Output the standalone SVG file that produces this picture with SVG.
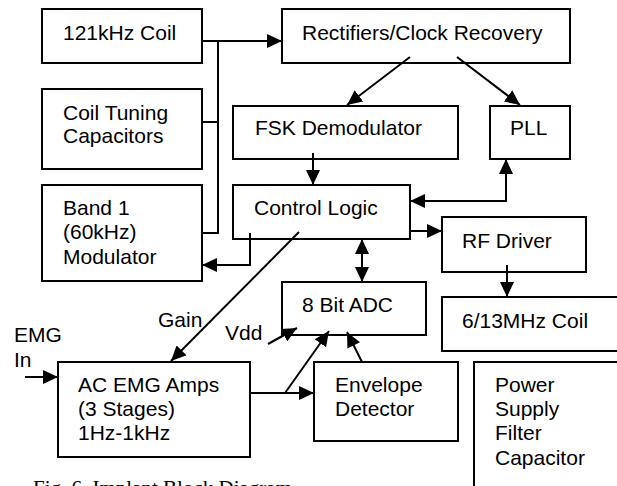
<svg xmlns="http://www.w3.org/2000/svg" width="617" height="486" viewBox="0 0 617 486">
<style>
.box{fill:#fff;stroke:#000;stroke-width:2}
.t{font-family:"Liberation Sans",Arial,sans-serif;font-size:21px;fill:#000}
.cap{font-family:"Liberation Serif","Times New Roman",serif;font-size:21px;fill:#000}
.c{fill:none;stroke:#000;stroke-width:2}
.a{marker-end:url(#ah)}
.d{marker-start:url(#ah);marker-end:url(#ah)}
</style>
<defs>
<marker id="ah" markerUnits="userSpaceOnUse" markerWidth="15" markerHeight="14" refX="15" refY="7" orient="auto-start-reverse" viewBox="0 0 15 14">
<path d="M0,0 L15,7 L0,14 z" fill="#000"/>
</marker>
</defs>
<rect width="617" height="486" fill="#fff"/>
<g id="coil121"><rect class="box" x="42" y="9" width="160" height="54"/><text class="t" x="63" y="40">121kHz Coil</text></g>
<g id="tuning"><rect class="box" x="42" y="89" width="160" height="80"/><text class="t" x="63" y="120">Coil Tuning</text><text class="t" x="63" y="143">Capacitors</text></g>
<g id="band1"><rect class="box" x="42" y="185" width="160" height="96"/><text class="t" x="63" y="215">Band 1</text><text class="t" x="63" y="239">(60kHz)</text><text class="t" x="63" y="264">Modulator</text></g>
<g id="rectifiers"><rect class="box" x="282" y="9" width="288" height="54"/><text class="t" x="302" y="40">Rectifiers/Clock Recovery</text></g>
<g id="fsk"><rect class="box" x="233" y="106" width="225" height="53"/><text class="t" x="255" y="135">FSK Demodulator</text></g>
<g id="pll"><rect class="box" x="490" y="106" width="80" height="53"/><text class="t" x="510" y="135">PLL</text></g>
<g id="control"><rect class="box" x="233" y="185" width="177" height="54"/><text class="t" x="254" y="215">Control Logic</text></g>
<g id="rfdriver"><rect class="box" x="442" y="217" width="144" height="55"/><text class="t" x="462" y="248">RF Driver</text></g>
<g id="coil613"><rect class="box" x="442" y="297" width="200" height="54"/><text class="t" x="462" y="328">6/13MHz Coil</text></g>
<g id="adc"><rect class="box" x="282" y="282" width="144" height="53"/><text class="t" x="302" y="312">8 Bit ADC</text></g>
<g id="envelope"><rect class="box" x="314" y="362" width="144" height="79"/><text class="t" x="335" y="392">Envelope</text><text class="t" x="335" y="416">Detector</text></g>
<g id="amps"><rect class="box" x="58" y="362" width="192" height="95"/><text class="t" x="78" y="392">AC EMG Amps</text><text class="t" x="78" y="416">(3 Stages)</text><text class="t" x="78" y="440">1Hz-1kHz</text></g>
<g id="power"><rect class="box" x="474" y="362" width="200" height="150"/><text class="t" x="495" y="392">Power</text><text class="t" x="495" y="416">Supply</text><text class="t" x="495" y="440">Filter</text><text class="t" x="495" y="465">Capacitor</text></g>
<g id="connectors">
<line class="c a" x1="202" y1="41" x2="282" y2="41"/>
<line class="c" x1="218" y1="41" x2="218" y2="234"/>
<line class="c" x1="202" y1="122" x2="219" y2="122"/>
<line class="c" x1="202" y1="233" x2="219" y2="233"/>
<line class="c a" x1="410" y1="57" x2="347" y2="105"/>
<line class="c a" x1="457" y1="57" x2="520" y2="105"/>
<line class="c a" x1="313" y1="153" x2="313" y2="185"/>
<polyline class="c d" points="506,159 506,201 410,201"/>
<line class="c a" x1="410" y1="231" x2="442" y2="231"/>
<line class="c a" x1="507" y1="265" x2="507" y2="297"/>
<line class="c d" x1="362" y1="239" x2="362" y2="282"/>
<polyline class="c a" points="250,233 250,265 202,265"/>
<line class="c a" x1="299" y1="232" x2="171" y2="361"/>
<line class="c a" x1="25" y1="377" x2="58" y2="377"/>
<line class="c a" x1="250" y1="393" x2="314" y2="393"/>
<line class="c a" x1="285" y1="393" x2="329" y2="331"/>
<line class="c a" x1="362" y1="362" x2="347" y2="332"/>
<line class="c a" x1="268" y1="344" x2="297" y2="328"/>
</g>
<g id="labels">
<text class="t" x="158" y="327">Gain</text>
<text class="t" x="225" y="340">Vdd</text>
<text class="t" x="14" y="342">EMG</text>
<text class="t" x="14" y="367">In</text>
<text class="cap" x="33" y="495">Fig. 6.  Implant Block Diagram</text>
</g>
</svg>
